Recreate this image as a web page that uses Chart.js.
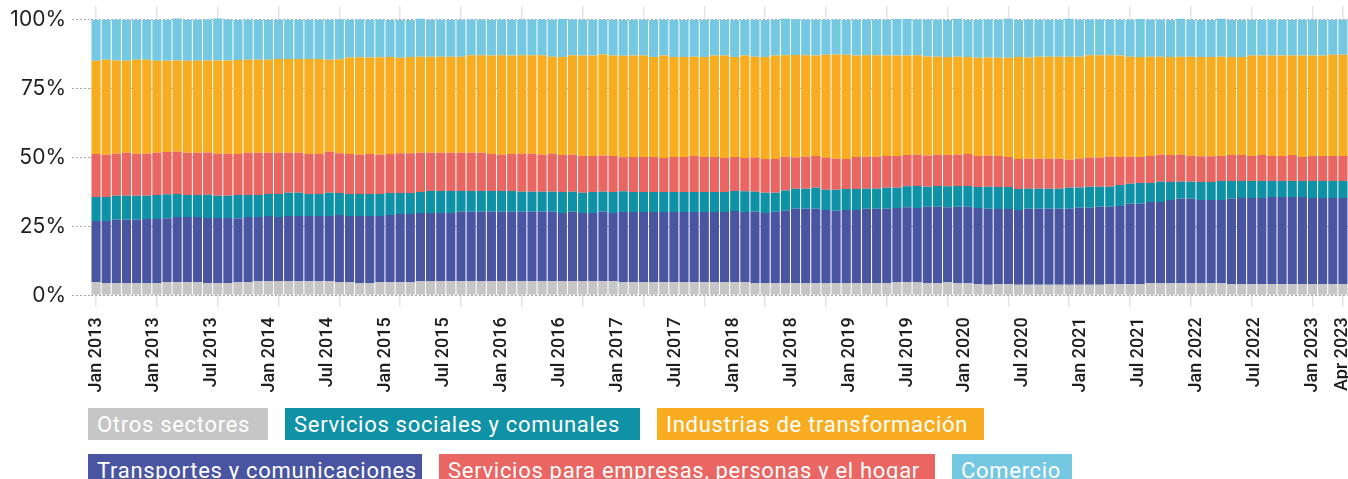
<!DOCTYPE html>
<html lang="es">
<head>
<meta charset="utf-8">
<title>Ocupados por sector</title>
<script src="https://cdn.jsdelivr.net/npm/chart.js@4.4.0/dist/chart.umd.min.js"></script>
<style>
  html, body { margin: 0; padding: 0; background: #fff; }
  #wrap { position: relative; width: 1348px; height: 479px; overflow: hidden; }
  #chartBox { position: absolute; left: 0; top: 0; width: 1348px; height: 400px; }
  .legend-row { position: absolute; left: 88px; display: flex; }
  .legend-item {
    height: 32px; line-height: 33px; color: #fff;
    font-family: Roboto, "Noto Sans", sans-serif; font-size: 22px; letter-spacing: 0.7px;
    padding: 0 0 0 9px; box-sizing: border-box; white-space: nowrap; overflow: hidden;
  }
</style>
</head>
<body>
<div id="wrap">
  <div id="chartBox"><canvas id="grafico" width="1348" height="400"></canvas></div>
  <div class="legend-row" id="fila1" style="top:408px"></div>
  <div class="legend-row" id="fila2" style="top:454px"></div>
</div>
<script>
// Meses de la serie: enero 2013 a abril 2023
const abrev = ['Jan','Feb','Mar','Apr','May','Jun','Jul','Aug','Sep','Oct','Nov','Dec'];
const meses = [];
for (let i = 0; i < 124; i++) meses.push(abrev[i % 12] + ' ' + (2013 + Math.floor(i / 12)));

// Etiquetas del eje horizontal
const etiquetas = ['Jan 2013','Jan 2013','Jul 2013','Jan 2014','Jul 2014','Jan 2015','Jul 2015',
  'Jan 2016','Jul 2016','Jan 2017','Jul 2017','Jan 2018','Jul 2018','Jan 2019','Jul 2019',
  'Jan 2020','Jul 2020','Jan 2021','Jul 2021','Jan 2022','Jul 2022','Jan 2023','Apr 2023'];

// Participación (%) de cada sector en el total
const otrosSectores = [
  4.8,4.5,4.5,4.5,4.5,4.5,4.5,4.8,4.8,4.8, 4.8,4.5,4.5,4.5,4.8,4.8,5.2,5.2,5.2,5.2,
  5.2,5.2,5.2,5.2,4.8,4.8,4.5,4.5,4.8,4.8, 4.8,4.8,5.2,5.2,5.2,5.2,5.2,5.2,5.2,5.2,
  5.2,5.2,5.2,5.2,5.2,5.2,5.2,5.2,5.2,5.2, 5.2,5.2,4.8,4.8,4.8,4.8,4.8,4.8,4.8,4.8,
  4.8,4.8,4.8,4.8,4.8,4.5,4.5,4.5,4.5,4.5, 4.5,4.5,4.5,4.5,4.5,4.5,4.5,4.5,4.5,4.8,
  4.8,4.8,4.5,4.5,4.8,4.5,4.5,4.1,3.8,4.1, 4.1,3.8,3.8,3.8,3.8,3.8,3.8,3.8,3.8,3.8,
  4.1,4.1,4.1,4.1,4.5,4.5,4.5,4.5,4.5,4.5, 4.5,4.5,4.1,4.1,4.1,4.1,4.1,4.1,4.1,4.1,
  4.1,4.1,4.1,4.1];

const transportes = [
  22.2,22.5,22.9,22.9,22.9,23.2,23.2,23.2,23.6,23.6, 23.6,23.6,23.6,23.6,23.2,23.6,23.2,23.6,23.2,23.6,
  23.6,23.6,23.6,23.6,24.3,24.0,24.3,24.3,24.0,24.3, 24.7,24.7,24.7,24.7,24.7,24.7,25.1,25.1,25.1,25.1,
  25.1,25.1,25.1,25.1,25.1,25.1,24.7,25.1,24.7,24.7, 25.1,24.7,25.4,25.4,25.4,25.4,25.4,25.4,25.4,25.4,
  25.4,25.4,25.4,25.8,25.4,25.8,25.4,25.8,26.2,26.9, 26.9,26.9,26.5,26.2,26.5,26.5,26.9,26.9,26.9,26.9,
  27.2,26.9,27.6,27.6,27.2,27.6,27.6,27.6,27.6,27.2, 27.2,27.2,27.6,27.6,27.6,27.6,27.6,28.0,28.0,28.3,
  28.0,28.3,29.1,29.1,29.4,29.4,30.1,30.5,30.5,30.1, 30.1,30.1,30.9,31.2,31.2,31.2,31.6,31.6,31.6,31.6,
  31.2,31.2,31.2,31.2];

const serviciosSociales = [
  8.7,8.7,8.7,8.7,8.7,8.4,8.7,8.7,8.4,8.0, 8.0,8.4,8.0,8.0,8.4,8.0,8.0,8.0,8.4,8.4,
  8.4,8.0,8.0,8.4,8.0,8.0,8.0,8.0,8.0,8.0, 7.6,7.6,7.6,8.0,8.0,8.0,7.6,7.6,7.6,7.6,
  7.6,7.6,7.3,7.3,7.3,7.3,7.6,7.3,7.3,7.6, 7.3,7.6,7.6,7.3,7.3,7.3,7.3,7.3,7.3,7.3,
  7.3,7.3,7.3,7.3,7.6,7.3,7.3,6.9,7.3,7.3, 7.3,7.6,7.3,7.6,7.6,7.6,7.3,7.3,7.6,7.3,
  7.6,8.0,7.3,7.6,7.6,7.6,7.6,7.6,8.0,8.0, 8.0,7.6,7.3,7.3,7.3,7.3,7.6,7.3,7.6,7.3,
  7.3,7.6,7.3,7.6,6.9,7.3,6.5,6.2,6.2,6.5, 6.5,6.9,6.5,6.2,6.2,6.2,5.8,5.8,5.8,5.8,
  6.2,6.2,6.2,6.2];

const serviciosEmpresas = [
  15.6,15.3,15.3,15.6,15.3,15.3,15.3,15.3,15.3,15.3, 15.3,15.3,15.3,15.3,14.9,15.3,15.3,14.9,14.9,14.5,
  14.5,14.5,14.5,14.9,14.5,14.5,14.2,14.5,14.2,14.2, 14.5,14.5,14.2,13.8,13.8,13.8,13.8,13.8,13.8,13.4,
  13.1,13.4,13.8,13.8,13.4,13.8,13.4,13.4,13.4,13.1, 13.1,13.1,12.3,12.7,12.7,12.7,12.3,12.7,12.7,13.1,
  12.7,12.7,12.3,12.3,12.0,12.3,12.3,12.3,12.3,11.3, 11.6,11.6,11.6,11.3,10.9,11.6,11.6,11.6,11.6,11.6,
  11.3,11.3,11.3,11.3,11.3,11.3,11.6,11.3,11.3,11.3, 10.9,10.9,10.9,10.9,10.9,10.9,10.2,10.5,10.5,10.5,
  10.9,10.2,9.8,9.4,9.8,9.8,9.8,9.8,9.4,9.4, 9.4,9.1,9.4,9.4,9.1,9.4,9.1,9.1,9.4,8.7,
  9.1,9.1,9.1,9.1];

const industrias = [
  33.8,34.5,33.8,33.4,34.1,34.1,33.4,33.1,33.1,33.4, 33.4,33.4,33.8,33.8,34.1,33.8,33.8,33.8,34.1,34.1,
  34.1,34.5,34.5,33.4,34.1,35.0,35.4,35.0,35.4,35.2, 34.6,34.9,34.9,34.9,34.9,34.9,34.9,35.4,35.4,35.7,
  36.1,35.7,35.7,35.7,36.1,35.2,35.6,36.1,36.4,36.4, 36.7,36.4,36.8,36.8,36.8,36.3,37.2,36.3,36.3,36.0,
  36.3,36.8,37.2,36.3,37.2,36.7,37.0,37.5,36.8,37.2, 36.8,36.4,37.4,37.8,37.8,36.8,36.8,36.8,36.4,36.4,
  36.1,36.1,36.0,35.6,35.6,35.6,35.2,35.6,35.6,35.6, 36.0,37.0,36.7,37.0,37.0,37.0,37.4,37.0,37.2,37.2,
  36.8,36.8,36.3,36.3,36.0,35.6,35.6,35.6,36.0,36.0, 36.0,36.0,35.6,35.6,36.4,36.1,36.4,36.4,36.1,36.8,
  36.4,36.4,36.7,36.7];

const comercio = [
  14.9,14.5,14.9,14.9,14.5,14.5,14.9,14.9,15.3,14.9, 14.9,14.9,15.3,14.9,14.5,14.5,14.5,14.5,14.2,14.2,
  14.2,14.2,14.2,14.5,14.5,13.7,13.7,13.7,13.7,13.4, 13.7,13.4,13.8,13.4,13.4,13.4,13.4,13.0,13.0,13.0,
  13.0,13.0,13.0,13.0,13.0,13.4,13.8,13.0,13.0,13.0, 12.7,13.0,13.0,13.0,13.0,13.4,13.0,13.4,13.4,13.4,
  13.4,13.0,13.0,13.4,13.0,13.4,13.4,13.0,13.3,13.0, 13.0,13.0,12.7,12.7,12.7,13.0,13.0,13.0,13.0,13.3,
  13.3,13.0,13.4,13.4,13.4,13.8,13.4,13.8,13.8,13.8, 14.2,13.4,13.8,13.4,13.4,13.4,13.8,13.4,13.0,13.0,
  13.0,13.0,13.4,13.8,13.4,13.4,13.4,13.8,13.4,13.4, 13.4,13.8,13.4,13.4,13.0,13.0,13.0,13.0,13.0,13.0,
  13.0,13.0,12.7,12.7];

// Series en orden de apilado (de abajo hacia arriba)
const series = [
  { label: 'Otros sectores', data: otrosSectores, color: '#c6c6c6' },
  { label: 'Transportes y comunicaciones', data: transportes, color: '#4a55a2' },
  { label: 'Servicios sociales y comunales', data: serviciosSociales, color: '#0f92a6' },
  { label: 'Servicios para empresas, personas y el hogar', data: serviciosEmpresas, color: '#e96663' },
  { label: 'Industrias de transformación', data: industrias, color: '#f8ad21' },
  { label: 'Comercio', data: comercio, color: '#75c8e1' }
];

const ultimo = meses.length - 1;
// Posiciones de las etiquetas del eje, en unidades de barra
const posEtiquetas = etiquetas.map((_, k) => k < etiquetas.length - 1 ? k * 120 / 21 : ultimo);

// Quita el margen automático que cada eje reserva para sus etiquetas
const sinMargen = s => { s.paddingLeft = 0; s.paddingRight = 0; s.paddingTop = 0; s.paddingBottom = 0; };

const grafico = new Chart(document.getElementById('grafico'), {
  type: 'bar',
  data: {
    labels: meses,
    datasets: series.map(s => ({
      label: s.label,
      data: s.data,
      backgroundColor: s.color,
      borderWidth: 0,
      categoryPercentage: 0.9,
      barPercentage: 1.0
    }))
  },
  options: {
    responsive: false,
    animation: false,
    devicePixelRatio: 1,
    layout: { autoPadding: false, padding: { top: 6, left: 0, right: 0, bottom: 0 } },
    plugins: { legend: { display: false }, tooltip: { enabled: false } },
    scales: {
      x: {
        type: 'category',
        stacked: true,
        position: 'bottom',
        grid: { offset: false, color: '#e6e6e6', lineWidth: 1.5, tickLength: 12, tickColor: '#e6e6e6' },
        border: { display: false },
        ticks: { display: false, autoSkip: false },
        afterBuildTicks: s => { s.ticks = s.ticks.filter(t => t.value % 6 === 0 || t.value === ultimo); },
        afterFit: s => { s.height = 0; sinMargen(s); }
      },
      xEtiquetas: {
        type: 'linear',
        position: 'bottom',
        offset: false,
        min: -0.5,
        max: ultimo + 0.5,
        grid: { display: false, drawTicks: false, offset: false },
        border: { display: false },
        afterBuildTicks: s => { s.ticks = posEtiquetas.map(v => ({ value: v })); },
        ticks: {
          autoSkip: false,
          minRotation: 90,
          maxRotation: 90,
          padding: 22,
          color: '#1e1e1e',
          font: { family: 'Roboto', size: 18, weight: '500' },
          callback: (v, i) => etiquetas[i]
        },
        afterFit: s => { s.height = 104.7; sinMargen(s); }
      },
      y: {
        stacked: true,
        min: 0,
        max: 105,
        afterBuildTicks: s => { s.ticks = [0, 25, 50, 75, 100].map(v => ({ value: v })); },
        grid: { color: '#a8a8a8', lineWidth: 1, tickLength: 19, tickColor: '#a8a8a8', tickBorderDash: [2, 2] },
        border: { display: false, dash: [2, 2] },
        ticks: {
          padding: 6,
          color: '#1e1e1e',
          font: { family: 'Inter', size: 21 },
          callback: v => v + '%'
        },
        afterFit: s => { s.width = 91; sinMargen(s); }
      }
    }
  }
});

// Leyenda con cajas de color
const filasLeyenda = [[0, 2, 4], [1, 3, 5]];
const anchosCaja = { 0: 180, 2: 355, 4: 327, 1: 334, 3: 496, 5: 120 };
filasLeyenda.forEach((fila, f) => {
  const cont = document.getElementById('fila' + (f + 1));
  fila.forEach((idx, j) => {
    const ds = grafico.data.datasets[idx];
    const item = document.createElement('div');
    item.className = 'legend-item';
    item.style.background = ds.backgroundColor;
    item.style.width = anchosCaja[idx] + 'px';
    item.style.marginRight = (j < fila.length - 1 ? 17 : 0) + 'px';
    item.textContent = ds.label;
    cont.appendChild(item);
  });
});
</script>
</body>
</html>
